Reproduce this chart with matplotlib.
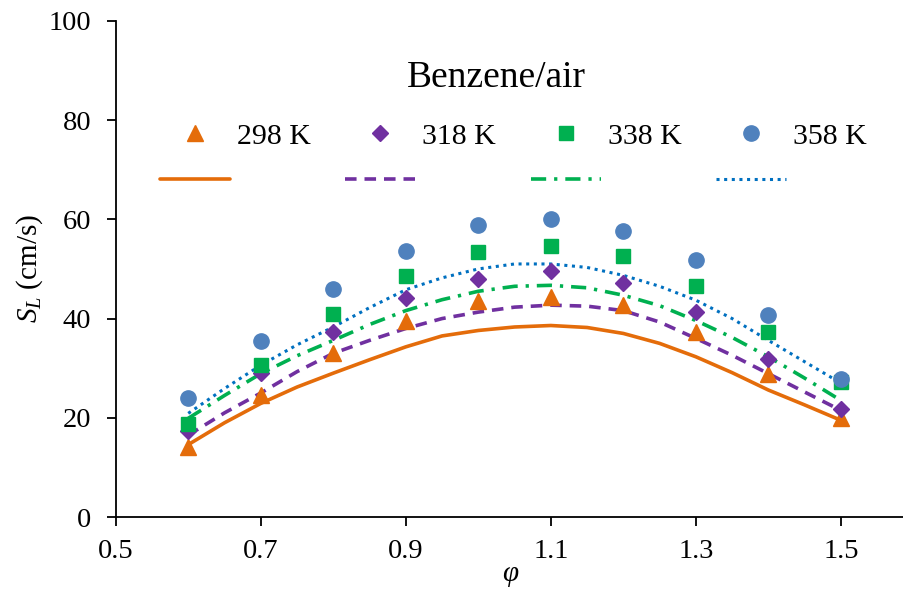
import matplotlib
matplotlib.use("Agg")
import matplotlib.pyplot as plt

plt.rcParams['font.family'] = ['Liberation Serif', 'DejaVu Serif']
plt.rcParams['mathtext.fontset'] = 'custom'
plt.rcParams['mathtext.rm'] = 'Liberation Serif'
plt.rcParams['mathtext.it'] = 'Liberation Serif:italic'

# measured points
phi = [0.6, 0.7, 0.8, 0.9, 1.0, 1.1, 1.2, 1.3, 1.4, 1.5]
sl_298 = [14.2, 24.5, 33.1, 39.5, 43.5, 44.3, 42.7, 37.3, 28.9, 19.9]
sl_318 = [17.3, 29.0, 37.3, 44.1, 48.0, 49.6, 47.1, 41.3, 31.9, 21.7]
sl_338 = [18.7, 30.6, 41.0, 48.5, 53.5, 54.7, 52.6, 46.5, 37.3, 27.2]
sl_358 = [23.9, 35.4, 45.9, 53.6, 58.8, 60.1, 57.7, 51.7, 40.8, 27.9]

# model curves
phi_fit = [0.6, 0.65, 0.7, 0.75, 0.8, 0.85, 0.9, 0.95, 1.0, 1.05,
           1.1, 1.15, 1.2, 1.25, 1.3, 1.35, 1.4, 1.45, 1.5]
fit_298 = [14.6, 19.0, 22.9, 26.2, 29.0, 31.7, 34.3, 36.5, 37.6, 38.3,
           38.6, 38.2, 37.0, 35.0, 32.3, 29.1, 25.6, 22.6, 19.5]
fit_318 = [16.5, 21.0, 25.0, 29.3, 33.0, 35.6, 38.0, 40.0, 41.3, 42.3,
           42.7, 42.5, 41.6, 39.3, 36.0, 32.6, 28.9, 25.2, 21.5]
fit_338 = [19.9, 24.5, 28.9, 32.5, 35.6, 38.8, 41.6, 43.8, 45.5, 46.5,
           46.7, 46.2, 44.7, 42.6, 39.6, 36.2, 32.3, 28.0, 23.5]
fit_358 = [20.9, 25.9, 30.6, 34.7, 38.3, 42.2, 45.8, 48.2, 50.0, 51.0,
           51.0, 50.3, 48.7, 46.5, 43.7, 40.0, 35.6, 31.3, 27.0]

labels = ['298 K', '318 K', '338 K', '358 K']
orange = '#E46C0A'
purple = '#7030A0'
green = '#00B050'
blue_pt = '#4F81BD'
blue_ln = '#0070C0'

fig = plt.figure(figsize=(9.04, 5.93), dpi=100)
ax = fig.add_axes([0.128, 0.128, 0.872, 0.837])

lw = 2.6
l1, = ax.plot(phi_fit, fit_298, color=orange, lw=lw, ls='-', solid_capstyle='round')
l2, = ax.plot(phi_fit, fit_318, color=purple, lw=lw, dashes=(3.2, 2.2))
l3, = ax.plot(phi_fit, fit_338, color=green, lw=lw, dashes=(4.2, 2.2, 0.9, 2.2))
l4, = ax.plot(phi_fit, fit_358, color=blue_ln, lw=2.2, dashes=(1.0, 1.5))

m1, = ax.plot(phi, sl_298, ls='none', marker='^', ms=12, color=orange)
m2, = ax.plot(phi, sl_318, ls='none', marker='D', ms=8.5, color=purple)
m3, = ax.plot(phi, sl_338, ls='none', marker='s', ms=10.5, color=green)
m4, = ax.plot(phi, sl_358, ls='none', marker='o', ms=11, color=blue_pt)

ax.set_xlim(0.5, 1.587)
ax.set_ylim(0, 100)
ax.set_xticks([0.5, 0.7, 0.9, 1.1, 1.3, 1.5])
ax.set_xticklabels(['0.5', '0.7', '0.9', '1.1', '1.3', '1.5'])
ax.set_yticks([0, 20, 40, 60, 80, 100])
ax.spines['top'].set_visible(False)
ax.spines['right'].set_visible(False)
ax.spines['left'].set_linewidth(1.3)
ax.spines['bottom'].set_linewidth(1.3)
ax.tick_params(labelsize=20.5, width=1.3, length=6.5, direction='out')
ax.tick_params(axis='y', pad=11)
ax.tick_params(axis='x', pad=9)

ax.set_xlabel('φ', fontsize=21, fontstyle='italic', labelpad=-2)
ax.set_ylabel('$S_L$ (cm/s)', fontsize=21, labelpad=3)

ax.text(0.483, 0.885, 'Benzene/air', transform=ax.transAxes, fontsize=27,
        ha='center', va='center')

handles = [m1, l1, m2, l2, m3, l3, m4, l4]
names = [labels[0], '', labels[1], '', labels[2], '', labels[3], '']
ax.legend(handles, names, ncol=4, loc='upper left', bbox_to_anchor=(0.056, 0.794),
          frameon=False, fontsize=21.5, handlelength=2.34, handletextpad=0.23,
          columnspacing=1.17, labelspacing=0.62, borderpad=0, borderaxespad=0)

fig.savefig('out.png', dpi=100)
